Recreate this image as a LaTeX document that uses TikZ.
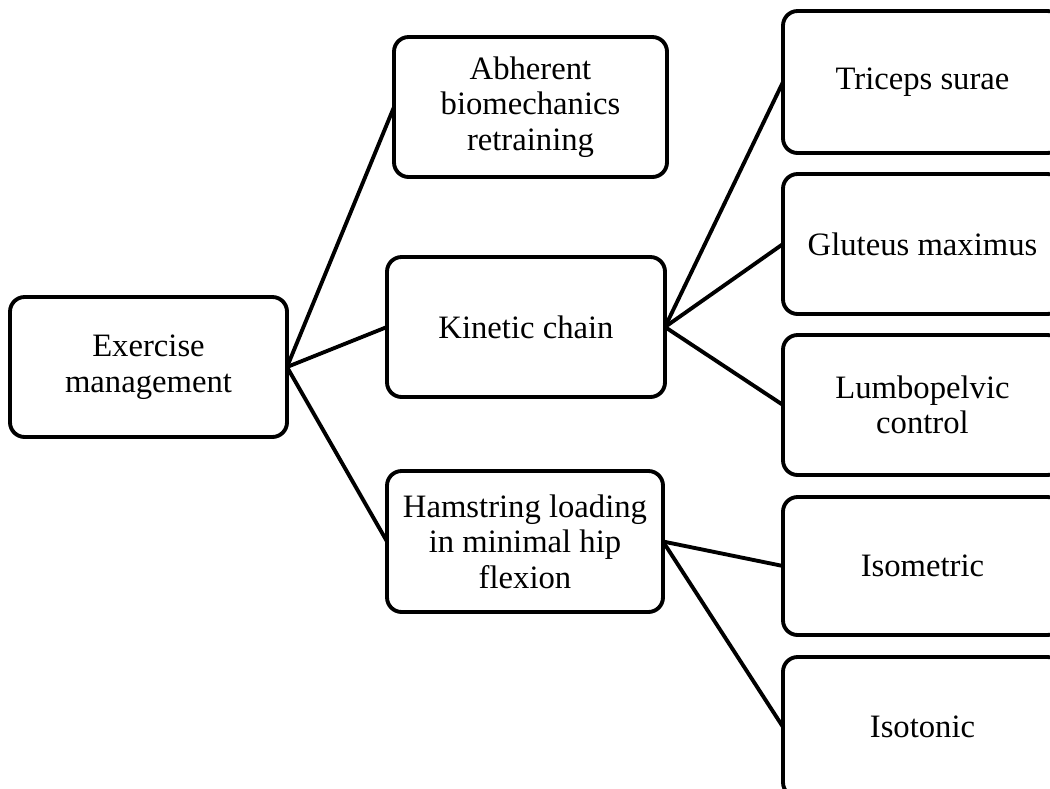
\documentclass[tikz,border=0pt]{standalone}
\usepackage{fontspec}
\setmainfont{Liberation Serif}
\begin{document}
\begin{tikzpicture}[x=0.75pt,y=-0.75pt,
  box/.style={draw=black, line width=2.9pt, rounded corners=11pt, fill=white,
    inner sep=0pt, outer sep=0pt, align=center,
    font=\fontsize{24.5}{26.6}\selectfont, minimum height=105pt},
  link/.style={draw=black, line width=2.9pt}]
\useasboundingbox (0,0) rectangle (1050,789);
\clip (0,0) rectangle (1050,789);
\node[box, minimum width=207.75pt] (ex) at (148.5,367) {Exercise\\management};
\node[box, minimum width=204.75pt] (ab) at (530.5,107) {Abherent\\biomechanics\\retraining};
\node[box, minimum width=208.5pt] (ki) at (526,327) {Kinetic chain};
\node[box, minimum width=207pt, minimum height=105.75pt] (ha) at (525,541.5) {Hamstring loading\\in minimal hip\\flexion};
\node[box, minimum width=209.25pt, minimum height=106.5pt] (tr) at (922.5,82) {Triceps surae};
\node[box, minimum width=209.25pt] (gl) at (922.5,244) {Gluteus maximus};
\node[box, minimum width=209.25pt] (lu) at (922.5,405) {Lumbopelvic\\control};
\node[box, minimum width=209.25pt, minimum height=103.5pt] (im) at (922.5,566) {Isometric};
\node[box, minimum width=209.25pt] (it) at (922.5,727) {Isotonic};
\draw[link] (ex.east) -- (ab.west);
\draw[link] (ex.east) -- (ki.west);
\draw[link] (ex.east) -- (ha.west);
\draw[link] (ki.east) -- (tr.west);
\draw[link] (ki.east) -- (gl.west);
\draw[link] (ki.east) -- (lu.west);
\draw[link] (ha.east) -- (im.west);
\draw[link] (ha.east) -- (it.west);
\end{tikzpicture}
\end{document}
